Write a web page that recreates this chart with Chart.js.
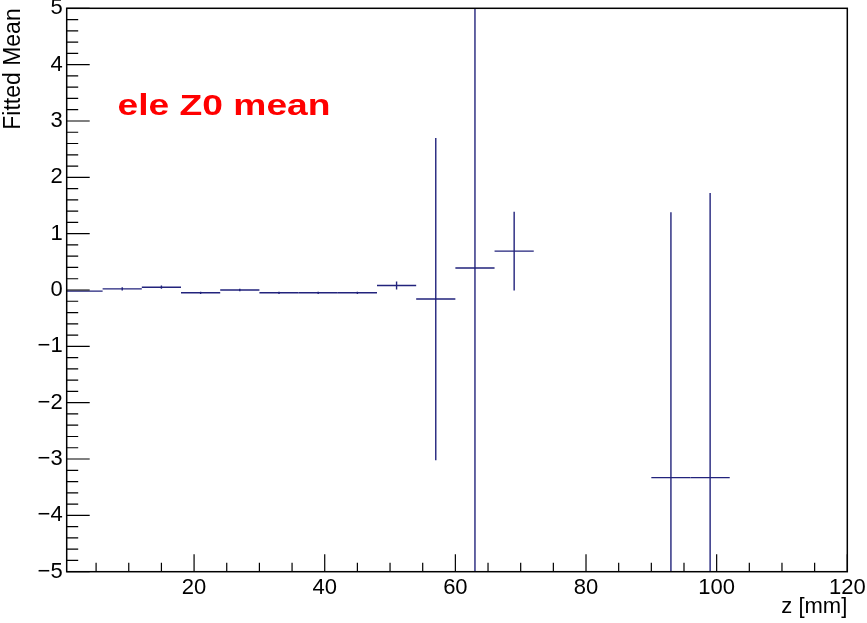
<!DOCTYPE html>
<html>
<head>
<meta charset="utf-8">
<script src="https://cdn.jsdelivr.net/npm/chart.js@4.4.0/dist/chart.umd.min.js"></script>
<style>
  html, body { margin: 0; padding: 0; background: #ffffff; }
  #wrap { width: 867px; height: 623px; position: relative; }
</style>
</head>
<body>
<div id="wrap"><canvas id="c" width="867" height="623"></canvas></div>
<script>
// ---- data ----
const binCenters = [3, 9, 15, 21, 27, 33, 39, 45, 51, 57, 63, 69, 93, 99];
const binHalfWidths = [3, 3, 3, 3, 3, 3, 3, 3, 3, 3, 3, 3, 3, 3];
const fittedMeans = [-0.02, 0.02, 0.05, -0.05, 0.0, -0.05, -0.05, -0.05, 0.08, -0.16, 0.39, 0.69, -3.33, -3.33];
const meanErrors = [0.01, 0.03, 0.03, 0.02, 0.02, 0.02, 0.02, 0.02, 0.07, 2.86, 6.5, 0.70, 4.71, 5.05];
const xTickValues = [20, 40, 60, 80, 100, 120];
const yTickValues = [-5, -4, -3, -2, -1, 0, 1, 2, 3, 4, 5];
const xRange = [0.5, 120];
const yRange = [-5, 5];
const xTitle = 'z [mm]';
const yTitle = 'Fitted Mean';
const labelText = 'ele Z0 mean';

const FONT = '"Liberation Sans", Arial, Helvetica, sans-serif';
const LINE_COLOR = '#22237c';

const points = binCenters.map((x, i) => ({ x: x, y: fittedMeans[i], xe: binHalfWidths[i], ye: meanErrors[i] }));

const errorBarPlugin = {
  id: 'errorBars',
  afterDatasetsDraw(chart) {
    const ctx = chart.ctx, xs = chart.scales.x, ys = chart.scales.y, a = chart.chartArea;
    ctx.save();
    ctx.beginPath();
    ctx.rect(a.left, a.top, a.right - a.left, a.bottom - a.top);
    ctx.clip();
    ctx.strokeStyle = LINE_COLOR;
    ctx.lineWidth = 1.4;
    chart.data.datasets[0].data.forEach(p => {
      const px = xs.getPixelForValue(p.x);
      const py = ys.getPixelForValue(p.y);
      const x0 = xs.getPixelForValue(p.x - p.xe);
      const x1 = xs.getPixelForValue(p.x + p.xe);
      const y0 = ys.getPixelForValue(p.y - p.ye);
      const y1 = ys.getPixelForValue(p.y + p.ye);
      ctx.beginPath();
      ctx.moveTo(x0, py); ctx.lineTo(x1, py);
      ctx.moveTo(px, y0); ctx.lineTo(px, y1);
      ctx.stroke();
    });
    ctx.restore();
  }
};

const framePlugin = {
  id: 'rootFrame',
  afterDraw(chart) {
    const ctx = chart.ctx, xs = chart.scales.x, ys = chart.scales.y, a = chart.chartArea;
    ctx.save();
    ctx.strokeStyle = '#000000';
    ctx.lineWidth = 1.5;
    ctx.strokeRect(a.left, a.top, a.right - a.left, a.bottom - a.top);
    ctx.lineWidth = 1.2;
    ctx.beginPath();
    // y ticks: major every 1, minor every 0.2
    for (let k = Math.round(yRange[0] * 5); k <= Math.round(yRange[1] * 5); k++) {
      const v = k / 5;
      const py = ys.getPixelForValue(v);
      const len = (k % 5 === 0) ? 23 : 11.5;
      ctx.moveTo(a.left, py); ctx.lineTo(a.left + len, py);
    }
    // x ticks: major every 20, minor every 5
    for (let v = 5; v <= xRange[1]; v += 5) {
      const px = xs.getPixelForValue(v);
      const len = (v % 20 === 0) ? 17.4 : 9;
      ctx.moveTo(px, a.bottom); ctx.lineTo(px, a.bottom - len);
    }
    ctx.stroke();
    // red label
    ctx.fillStyle = '#ff0000';
    ctx.font = 'bold 30px ' + FONT;
    ctx.textBaseline = 'alphabetic';
    ctx.textAlign = 'left';
    const w = ctx.measureText(labelText).width;
    const sx = 213 / w;
    ctx.translate(117.5, 114.5);
    ctx.scale(sx, 1);
    ctx.fillText(labelText, 0, 0);
    ctx.restore();
  }
};

const fmt = v => (v < 0 ? '\u2212' + Math.abs(v) : String(v));

new Chart(document.getElementById('c'), {
  type: 'scatter',
  data: {
    datasets: [{
      data: points,
      pointRadius: 0,
      pointHoverRadius: 0,
      showLine: false
    }]
  },
  options: {
    responsive: false,
    animation: false,
    events: [],
    layout: { padding: { top: 8.3, right: 19.7, left: 0, bottom: 0 } },
    plugins: { legend: { display: false }, tooltip: { enabled: false } },
    scales: {
      x: {
        type: 'linear',
        min: xRange[0],
        max: xRange[1],
        afterBuildTicks: s => { s.ticks = xTickValues.map(v => ({ value: v })); },
        afterFit: s => { s.height = 51.3; s.paddingLeft = 0; s.paddingRight = 0; },
        grid: { display: false, drawTicks: false },
        border: { display: false },
        ticks: {
          autoSkip: false, maxRotation: 0, padding: 3.5,
          color: '#000000', font: { family: FONT, size: 22 },
          callback: v => fmt(v)
        },
        title: {
          display: true, text: xTitle, align: 'end', color: '#000000',
          font: { family: FONT, size: 22 }, padding: { top: 0, bottom: 3 }
        }
      },
      y: {
        type: 'linear',
        min: yRange[0],
        max: yRange[1],
        afterBuildTicks: s => { s.ticks = yTickValues.map(v => ({ value: v })); },
        afterFit: s => { s.width = 66.7; s.paddingTop = 0; s.paddingBottom = 0; },
        grid: { display: false, drawTicks: false },
        border: { display: false },
        ticks: {
          autoSkip: false, padding: 4,
          color: '#000000', font: { family: FONT, size: 22 },
          callback: v => fmt(v)
        },
        title: {
          display: true, text: yTitle, align: 'end', color: '#000000',
          font: { family: FONT, size: 23 }, padding: { top: 0, bottom: 0 }
        }
      }
    }
  },
  plugins: [errorBarPlugin, framePlugin]
});
</script>
</body>
</html>
